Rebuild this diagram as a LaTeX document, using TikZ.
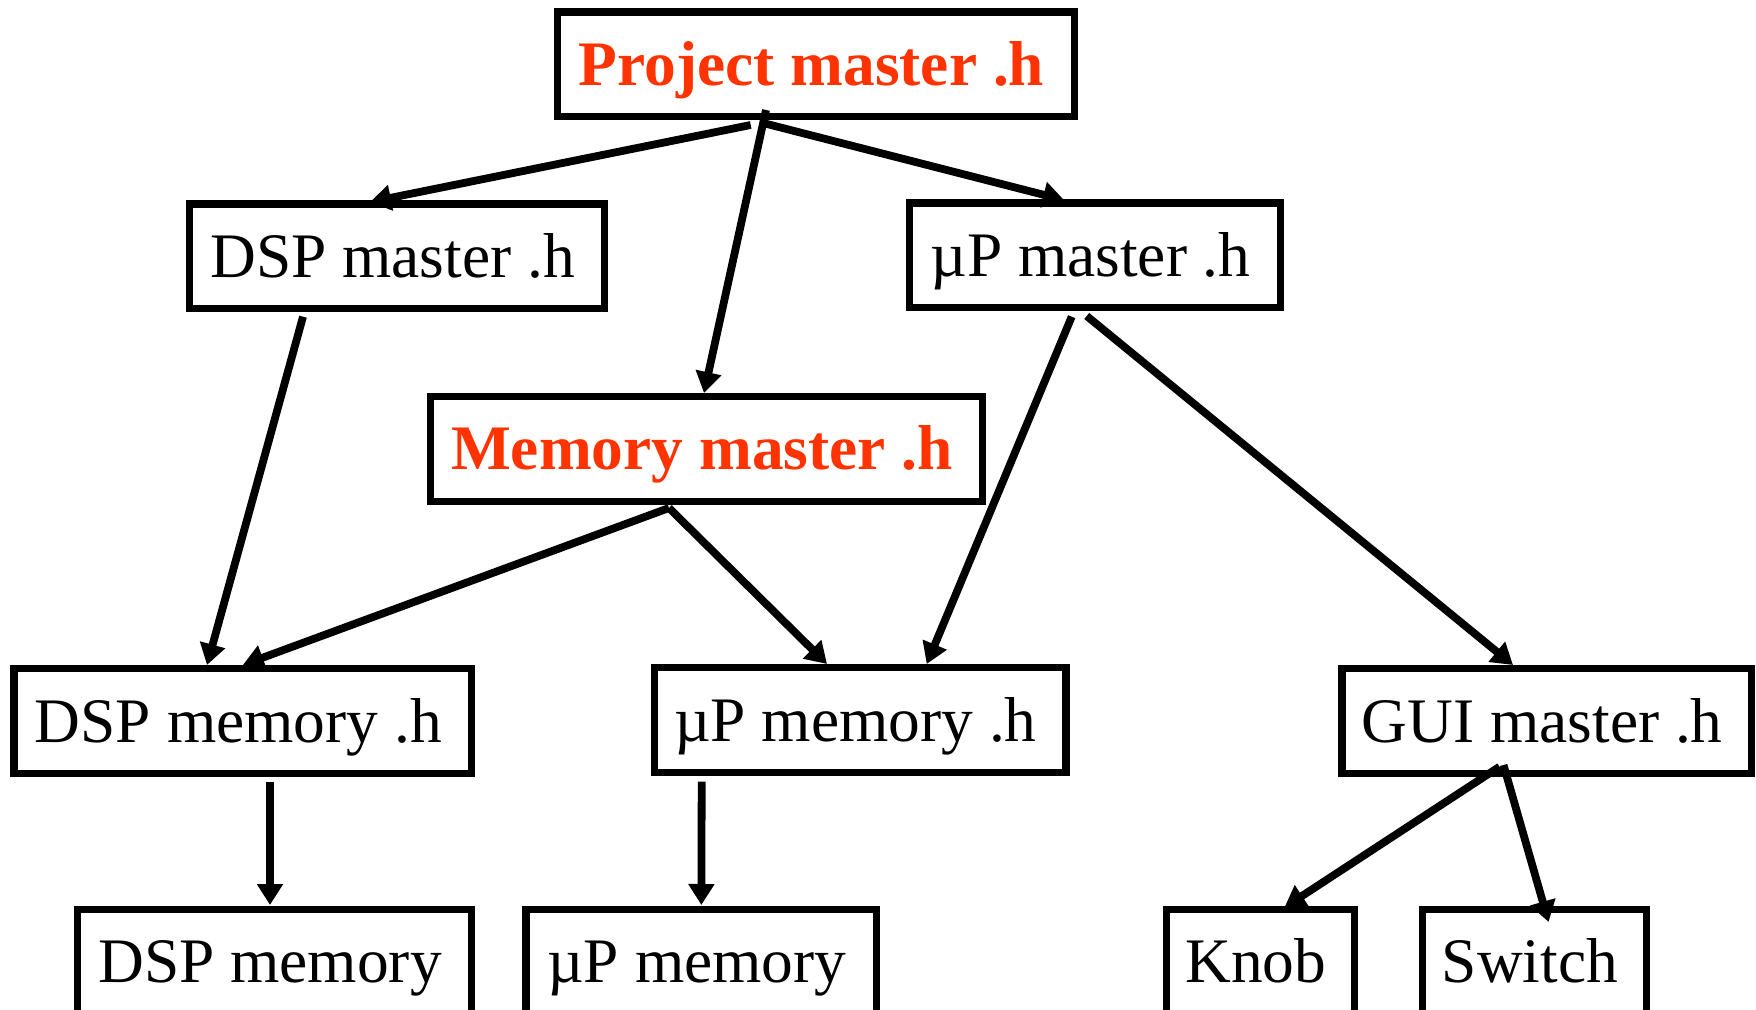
\documentclass[tikz,border=0pt]{standalone}
\usepackage{fontspec}
\setmainfont{Liberation Serif}
\usetikzlibrary{arrows.meta,calc}
\definecolor{hdrred}{RGB}{255,51,0}
\begin{document}
\begin{tikzpicture}[x=0.5pt,y=-0.5pt,
  box/.style={draw, line width=3.7pt, inner sep=0pt, outer sep=0pt,
    minimum height=52.3pt, text height=21pt, text depth=0pt,
    font=\fontsize{31.7}{38}\selectfont, execute at end node={\kern4.5pt}},
  master/.style={box, text=hdrred, font=\fontsize{31.7}{38}\selectfont\bfseries},
  arr/.style={line width=3.9pt, -{Triangle[length=10.5pt,width=12.5pt]}}]

% page frame
\clip (0,0) rectangle (1756,1010);
\fill[white] (0,0) rectangle (1756,1010);

% header files
\node[master, minimum width=258.5pt] (proj) at (816,64.5) {Project master .h};
\node[box, minimum width=207.5pt] (dspm) at (397,256.5) {DSP master .h};
\node[box, minimum width=185.5pt] (upm) at (1095,255.5) {µP master .h};
\node[master, minimum width=276pt] (mem) at (706.5,449) {Memory master .h};
\node[box, minimum width=228.7pt] (dsph) at (242.85,721) {DSP memory .h};
\node[box, minimum width=205.8pt] (uph) at (860,720) {µP memory .h};
\node[box, minimum width=204.8pt] (gui) at (1546.7,721) {GUI master .h};

% modules
\node[box, minimum width=197pt] (dspmem) at (274.5,961.5) {DSP memory};
\node[box, minimum width=175.2pt] (upmem) at (701.35,961.5) {µP memory};
\node[box, minimum width=94.1pt] (knob) at (1260.4,961.5) {Knob};
\node[box, minimum width=112pt] (switch) at (1534.5,961.5) {Switch};

% include relations
\draw[arr] ($(proj)+(-65.3,60.5)$) -- ($(dspm)+(-27,-54.5)$);
\draw[arr] ($(proj)+(-50,45.5)$) -- ($(mem)+(-2.5,-56)$);
\draw[arr] ($(proj)+(-53,58.5)$) -- ($(upm)+(-31,-55.5)$);
\draw[arr] ($(dspm)+(-94,60.2)$) -- ($(dsph)+(-35.85,-56)$);
\draw[arr] ($(mem)+(-37.5,59)$) -- ($(dsph)+(0,-56)$);
\draw[arr] ($(mem)+(-37.5,59)$) -- ($(uph)+(-33,-56)$);
\draw[arr] ($(upm)+(-23.3,61.2)$) -- ($(uph)+(66.7,-56)$);
\draw[arr] ($(upm)+(-8.3,60.5)$) -- ($(gui)+(-33.7,-56)$);
\draw[arr] ($(dsph)+(27.15,60.7)$) -- ($(dspmem)+(-4.5,-56.5)$);
\draw[arr] ($(uph)+(-158.3,61.7)$) -- ($(upmem)+(0,-56.5)$);
\draw[arr] ($(gui)+(-47.2,45.7)$) -- ($(knob)+(24,-54)$);
\draw[arr] ($(gui)+(-43.2,44)$) -- ($(switch)+(14.1,-39.5)$);
\end{tikzpicture}
\end{document}
